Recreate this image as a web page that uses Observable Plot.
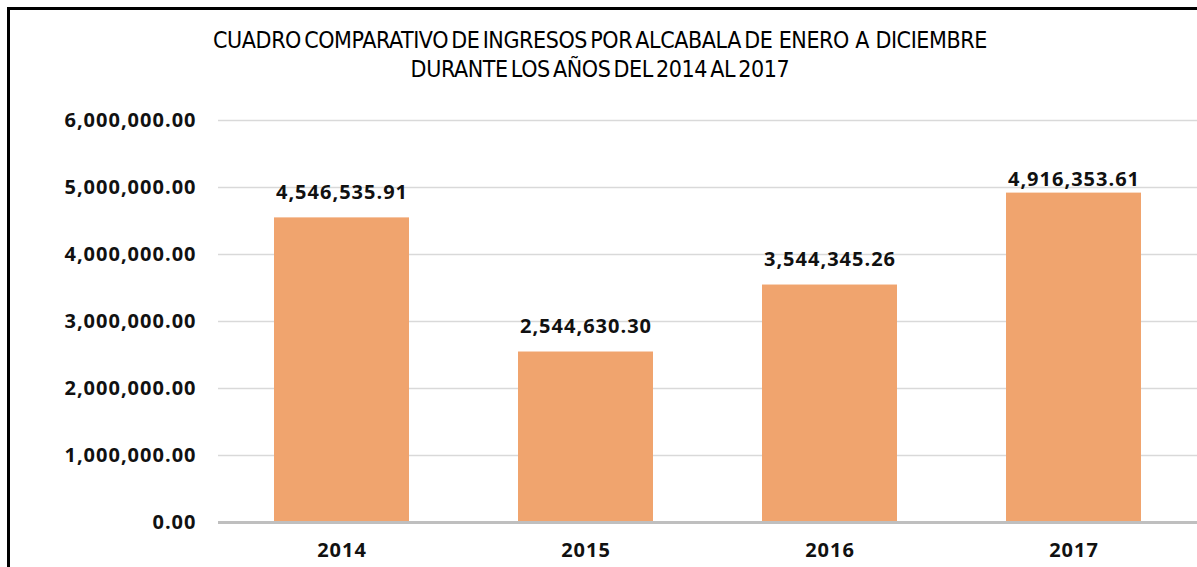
<!DOCTYPE html>
<html>
<head>
<meta charset="utf-8">
<script src="https://cdn.jsdelivr.net/npm/d3@7"></script>
<script src="https://cdn.jsdelivr.net/npm/@observablehq/plot@0.6"></script>
<style>
  html, body { margin: 0; padding: 0; background: #fff; overflow: hidden; }
  #wrap { position: relative; width: 1197px; height: 567px; }
  #frame { position: absolute; left: 7px; top: 7px; width: 1400px; height: 800px; border: 3px solid #000; box-sizing: border-box; pointer-events: none; }
  #title { position: absolute; left: 0; top: 0; width: 1197px; height: 100px; text-align: center;
           font-family: "Liberation Sans Narrow", "DejaVu Sans Condensed", sans-serif; font-size: 23px; color: #000;
           word-spacing: -3px; letter-spacing: -0.4px; }
  #title .l1 { position: absolute; left: 0; width: 1200px; top: 26px; line-height: 28px; }
  #title .l2 { position: absolute; left: 0; width: 1200px; top: 55px; line-height: 28px; }
  #chart { position: absolute; left: 0; top: 100px; }
  #chart svg text { letter-spacing: 1px; }
</style>
</head>
<body>
<div id="wrap">
  <div id="title">
    <div class="l1">CUADRO COMPARATIVO DE INGRESOS POR ALCABALA DE &nbsp;ENERO &nbsp;A &nbsp;DICIEMBRE</div>
    <div class="l2">DURANTE LOS AÑOS DEL 2014 AL 2017</div>
  </div>
  <div id="chart"></div>
  <div id="frame"></div>
</div>
<script>
const years = ["2014", "2015", "2016", "2017"];
const values = [4546535.91, 2544630.30, 3544345.26, 4916353.61];
const yTicks = [0, 1000000, 2000000, 3000000, 4000000, 5000000, 6000000];

const data = years.map((year, i) => ({year, value: values[i]}));
const fmt = d3.format(",.2f");

const chart = Plot.plot({
  width: 1197,
  height: 467,
  marginLeft: 218,
  marginRight: 0,
  marginTop: 20,
  marginBottom: 45,
  style: { fontFamily: "'Open Sans', Lato, sans-serif", fontSize: "20px", fontWeight: "bold", color: "#111", background: "transparent" },
  x: { domain: years, paddingInner: 0.445, paddingOuter: 0.2225, label: null, tickSize: 0, tickPadding: 20 },
  y: { domain: [0, 6000000], ticks: yTicks, tickFormat: fmt, label: null, tickSize: 0, tickPadding: 22 },
  marks: [
    Plot.gridY(yTicks.filter(d => d > 0), { stroke: "#d9d9d9", strokeOpacity: 1, strokeWidth: 1.5 }),
    Plot.barY(data, { x: "year", y: "value", fill: "#F0A46E" }),
    Plot.ruleY([0], { stroke: "#bfbfbf", strokeWidth: 3 }),
    Plot.text(data.filter(d => d.year !== "2017"), { x: "year", y: "value", text: d => fmt(d.value), dy: -25, fill: "#111", fontSize: 20, fontWeight: "bold" }),
    Plot.text(data.filter(d => d.year === "2017"), { x: "year", y: "value", text: d => fmt(d.value), dy: -14, fill: "#111", fontSize: 20, fontWeight: "bold" })
  ]
});
document.getElementById("chart").appendChild(chart);
</script>
</body>
</html>
